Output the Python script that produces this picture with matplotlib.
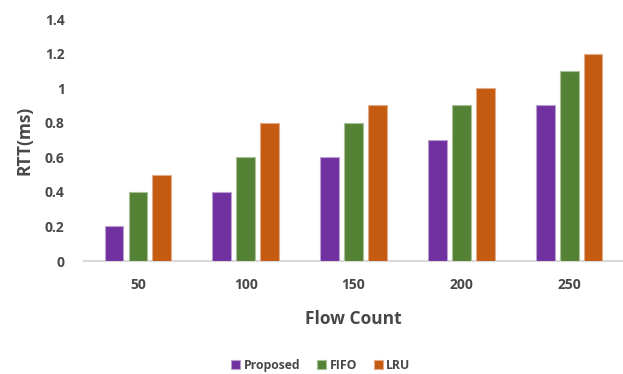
import matplotlib.pyplot as plt
import numpy as np

categories = ["50", "100", "150", "200", "250"]
proposed = [0.2, 0.4, 0.6, 0.7, 0.9]
fifo = [0.4, 0.6, 0.8, 0.9, 1.1]
lru = [0.5, 0.8, 0.9, 1.0, 1.2]
series_names = ["Proposed", "FIFO", "LRU"]
y_ticks = [0, 0.2, 0.4, 0.6, 0.8, 1.0, 1.2, 1.4]
y_tick_labels = ["0", "0.2", "0.4", "0.6", "0.8", "1", "1.2", "1.4"]

colors = ["#7030A0", "#548235", "#C55A11"]
edges = ["#B9A0CF", "#A9C19A", "#E2AC88"]
text_color = "#484848"

plt.rcParams["font.family"] = ["Open Sans", "DejaVu Sans"]

fig = plt.figure(figsize=(6.23, 3.74), dpi=100)
ax = fig.add_axes([0.135, 0.302, 0.865, 0.647])

x = np.arange(len(categories))
width = 0.175
step = 0.222
for i, (vals, name) in enumerate(zip([proposed, fifo, lru], series_names)):
    ax.bar(x + (i - 1) * step, vals, width, color=colors[i], edgecolor=edges[i],
           linewidth=0.8, label=name, zorder=3)

ax.set_xlim(-0.5, len(categories) - 0.5)
ax.set_ylim(0, 1.4)
ax.set_yticks(y_ticks)
ax.set_yticklabels(y_tick_labels)
ax.set_xticks(x)
ax.set_xticklabels(categories)

for s in ["top", "right", "left"]:
    ax.spines[s].set_visible(False)
ax.spines["bottom"].set_color("#D9D9D9")
ax.spines["bottom"].set_linewidth(1.5)

ax.tick_params(axis="both", length=0, labelsize=10, labelcolor=text_color)
ax.tick_params(axis="y", pad=14)
ax.tick_params(axis="x", pad=12)
for lbl in ax.get_xticklabels() + ax.get_yticklabels():
    lbl.set_fontweight("bold")

ax.set_xlabel("Flow Count", fontsize=12.5, fontweight="bold", color=text_color, labelpad=13)
ax.set_ylabel("RTT(ms)", fontsize=12.5, fontweight="bold", color=text_color, labelpad=8)

leg = fig.legend(loc="center", bbox_to_anchor=(0.515, 0.024), ncol=3, frameon=False,
                 handlelength=0.7, handleheight=0.7, handletextpad=0.3, columnspacing=1.4,
                 prop={"weight": "bold", "size": 8.8})
for t in leg.get_texts():
    t.set_color(text_color)

fig.savefig("out.png", dpi=100)
